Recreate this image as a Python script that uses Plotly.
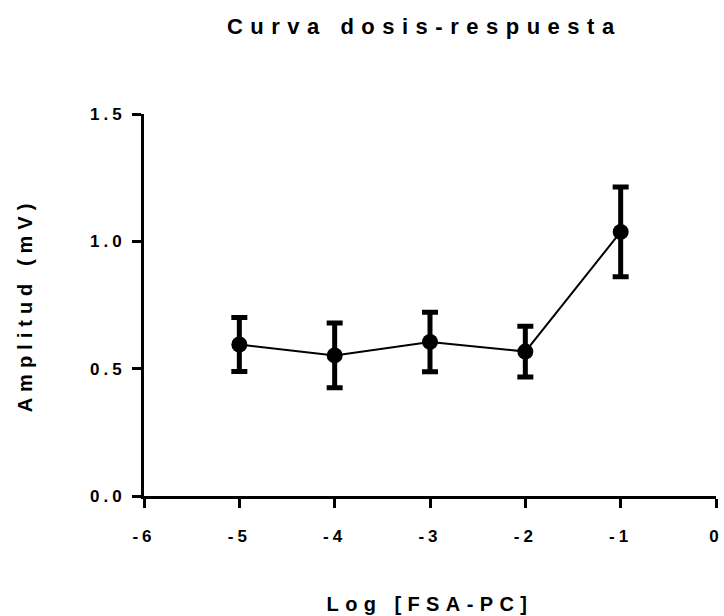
import plotly.graph_objects as go

log_dose = [-5, -4, -3, -2, -1]
amplitud = [0.595, 0.552, 0.605, 0.567, 1.037]
error = [0.106, 0.127, 0.117, 0.100, 0.176]

x_ticks = [-6, -5, -4, -3, -2, -1, 0]
y_ticks = [0.0, 0.5, 1.0, 1.5]
y_tick_labels = ["0.0", "0.5", "1.0", "1.5"]

title_text = "Curva dosis-respuesta"
x_title = "Log [FSA-PC]"
y_title = "Amplitud (mV)"


def spaced(s, ls):
    return f'<span style="letter-spacing:{ls}px">{s}</span>'


fig = go.Figure()
fig.add_trace(go.Scatter(
    x=log_dose, y=amplitud,
    mode="lines+markers",
    line=dict(color="black", width=2),
    marker=dict(color="black", size=16),
    error_y=dict(type="data", array=error, visible=True,
                 color="black", thickness=5, width=8),
    cliponaxis=False,
    showlegend=False,
))

font_main = "Liberation Sans, Arial, sans-serif"

fig.update_layout(
    width=724, height=616,
    paper_bgcolor="white", plot_bgcolor="white",
    margin=dict(l=143.5, r=7.5, t=114, b=119.5, autoexpand=False),
    title=dict(text=spaced(title_text, 7.5),
               x=0.49, xref="paper", y=1 - 26 / 616, yref="container",
               xanchor="center", yanchor="middle",
               font=dict(family=font_main, size=22, color="black", weight="bold")),
    font=dict(family=font_main, color="black"),
)

fig.update_xaxes(
    range=[-6, 0], tickvals=x_ticks,
    ticktext=[spaced(str(v), 4) for v in x_ticks],
    showgrid=False, zeroline=False, automargin=False,
    showline=True, linecolor="black", linewidth=3,
    ticks="outside", ticklen=9, tickwidth=3, tickcolor="black",
    ticklabelstandoff=14, ticklabeloverflow="allow",
    tickfont=dict(family=font_main, size=17, color="black", weight="bold"),
    title=dict(text=spaced(x_title, 6.4),
               font=dict(family=font_main, size=20, color="black", weight="bold"),
               standoff=52),
)
fig.update_yaxes(
    range=[0, 1.5], tickvals=y_ticks,
    ticktext=[spaced(t, 4) for t in y_tick_labels],
    showgrid=False, zeroline=False, automargin=False,
    showline=True, linecolor="black", linewidth=3,
    ticks="outside", ticklen=9, tickwidth=3, tickcolor="black",
    ticklabelstandoff=3,
    tickfont=dict(family=font_main, size=17, color="black", weight="bold"),
    title=dict(text=spaced(y_title, 6),
               font=dict(family=font_main, size=20, color="black", weight="bold"),
               standoff=52),
)

fig.write_html("out.html", config={"displayModeBar": False},
               post_script="document.body.style.margin='0';document.body.style.overflow='hidden';")
